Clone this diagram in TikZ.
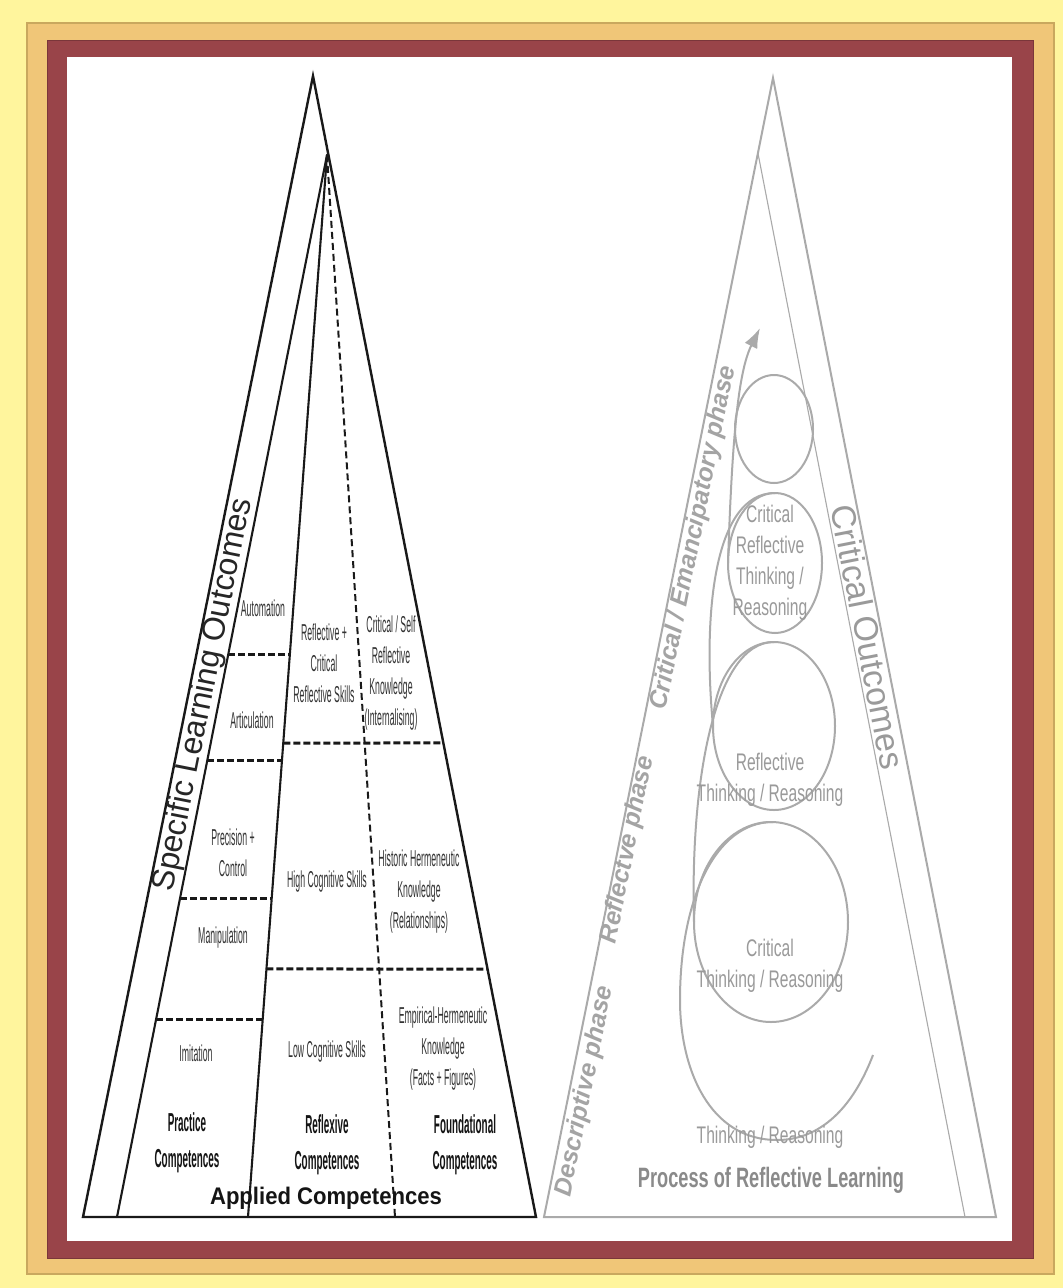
\documentclass[tikz,border=0pt]{standalone}
\usepackage{fontspec}
\setmainfont{Liberation Sans}
\newfontfamily\cnd[FakeStretch=0.38]{Liberation Sans}
\newfontfamily\cndr[FakeStretch=0.65]{Liberation Sans}
\newfontfamily\cndb[FakeStretch=0.92]{Liberation Sans}
\usetikzlibrary{calc,arrows.meta}
\definecolor{bgyellow}{HTML}{FFF59D}
\definecolor{bandorange}{HTML}{F0C678}
\definecolor{bandedge}{HTML}{C9A85E}
\definecolor{bandmaroon}{HTML}{994449}
\definecolor{grline}{HTML}{AAAAAA}
\definecolor{grtext}{HTML}{9A9A9A}
\definecolor{grphase}{HTML}{A4A4A4}
\definecolor{grproc}{HTML}{8A8A8A}
\tikzset{
  blkline/.style={line width=2.4pt, black!90, line join=miter},
  innerline/.style={line width=2.1pt, black!90, line cap=round},
  vdashed/.style={line width=2pt, black!90, dash pattern=on 7pt off 4pt},
  hdashed/.style={line width=3pt, black!90, dash pattern=on 7pt off 3pt},
  gryline/.style={line width=2pt, grline, line join=miter},
  grythin/.style={line width=1.1pt, grline},
  spiralline/.style={line width=2pt, grline},
  lab/.style={font=\cnd\fontsize{23}{31}\selectfont, align=center, text=black!80, inner sep=0pt},
  blab/.style={font=\cnd\bfseries\fontsize{26}{36}\selectfont, align=center, text=black!92, inner sep=0pt},
  gtxt/.style={font=\cndr\fontsize{24}{31}\selectfont, align=center, text=grtext, inner sep=0pt},
  phaselab/.style={font=\bfseries\itshape\fontsize{25}{30}\selectfont, text=grphase, inner sep=0pt, rotate=78.6},
}
\begin{document}
\begin{tikzpicture}[x=1pt,y=-1pt]
\useasboundingbox (0,0) rectangle (1063,1288);
% frame
\fill[bgyellow] (0,0) rectangle (1063,1288);
\filldraw[fill=bandorange, draw=bandedge, line width=1.2pt] (27,23) rectangle (1054,1274);
\filldraw[fill=bandmaroon, draw=bandmaroon!80!black, line width=0.8pt] (47,40) rectangle (1033,1258);
\fill[white] (67,57) rectangle (1012,1241);

% ---------- left pyramid ----------
\coordinate (apL) at (313,76);
\coordinate (apI) at (327,155);
\coordinate (bL) at (83,1217);
\coordinate (bR) at (536,1217);
\coordinate (bA) at (117,1217);
\coordinate (bB) at (248,1217);
\coordinate (bC) at (395,1217);

\draw[innerline] (apI) -- (bA);
\draw[innerline] (apI) -- (bB);
\draw[vdashed] (apI) -- (bC);
\draw[blkline] (bL) -- (apL) -- (bR) -- cycle;

\foreach \yy in {655,760,898,1019}
  \draw[hdashed] ($(apI)!{(\yy-155)/1062}!(bA)$) -- ($(apI)!{(\yy-155)/1062}!(bB)$);
\foreach \yy in {743,969}
  \draw[hdashed] ($(apI)!{(\yy-155)/1062}!(bB)$) -- ($(apL)!{(\yy-76)/1141}!(bR)$);

\node[rotate=78.7, font=\fontsize{32}{36}\selectfont, text=black!85, inner sep=0pt] (slo) at (204,695) {Specific Learning Outcomes};

\node[lab] (automation) at (263,608) {Automation};
\node[lab] (articulation) at (252,720) {Articulation};
\node[lab] (precision) at (233,853) {Precision +\\Control};
\node[lab] (manipulation) at (223,938) {Manipulation};
\node[lab] (imitation) at (196,1053) {Imitation};
\node[lab] (refcrit) at (324,663) {Reflective +\\Critical\\Reflective Skills};
\node[lab] (highcog) at (327,882) {High Cognitive Skills};
\node[lab] (lowcog) at (327,1052) {Low Cognitive Skills};
\node[lab] (critself) at (391,673) {Critical / Self\\Reflective\\Knowledge\\(Internalising)};
\node[lab] (historic) at (419,892) {Historic Hermeneutic\\Knowledge\\(Relationships)};
\node[lab] (empirical) at (443,1049) {Empirical-Hermeneutic\\Knowledge\\(Facts + Figures)};
\node[blab] (practice) at (187,1143) {Practice\\Competences};
\node[blab] (reflexive) at (327,1145) {Reflexive\\Competences};
\node[blab] (foundational) at (465,1145) {Foundational\\Competences};
\node[font=\cndb\bfseries\fontsize{24}{28}\selectfont, text=black!92, inner sep=0pt] (applied) at (326,1198) {Applied Competences};

% ---------- right pyramid ----------
\coordinate (apR) at (773,78);
\coordinate (bRL) at (544,1217);
\coordinate (bRR) at (996,1217);
\coordinate (inTop) at ($(apR)!{75/1139}!(bRL)$);
\coordinate (inBot) at (965,1217);
\draw[gryline] (bRL) -- (apR) -- (bRR) -- cycle;
\draw[grythin] (inTop) -- (inBot);

% spiral
\draw[spiralline] (873,1055) .. controls (850,1115) and (815,1140) .. (777,1140)
  .. controls (710,1140) and (680,1070) .. (680,1000)
  .. controls (680,900) and (715,822) .. (773,822);
\draw[spiralline] (771,922) ellipse [x radius=77pt, y radius=100pt];
\draw[spiralline] (774,726) ellipse [x radius=61pt, y radius=84pt];
\draw[spiralline] (775,563) ellipse [x radius=47pt, y radius=70pt];
\draw[spiralline] (774,429) ellipse [x radius=39pt, y radius=54pt];
\draw[spiralline] (694,922) .. controls (690,780) and (715,642) .. (774,642);
\draw[spiralline] (713,726) .. controls (703,620) and (712,493) .. (775,493);
\draw[spiralline, -{Latex[length=20pt,width=14pt]}] (728,563) .. controls (732,440) and (738,372) .. (760,328);

\node[gtxt] (crt) at (770,563) {Critical\\Reflective\\Thinking /\\Reasoning};
\node[gtxt] (rtr) at (770,780) {Reflective\\Thinking / Reasoning};
\node[gtxt] (ctr) at (770,966) {Critical\\Thinking / Reasoning};
\node[gtxt] (tr) at (770,1137) {Thinking / Reasoning};
\node[font=\cndr\bfseries\fontsize{28}{32}\selectfont, text=grproc, inner sep=0pt] (proc) at (771,1180) {Process of Reflective Learning};

\node[rotate=-78.9, font=\fontsize{34}{40}\selectfont, text=grtext, inner sep=0pt] (critout) at (868,637) {Critical Outcomes};

\node[phaselab] (descphase) at (585,1091) {Descriptive phase};
\node[phaselab] (reflphase) at (628,850) {Reflectve phase};
\node[phaselab] (critphase) at (694,538) {Critical / Emancipatory phase};
\end{tikzpicture}
\end{document}
